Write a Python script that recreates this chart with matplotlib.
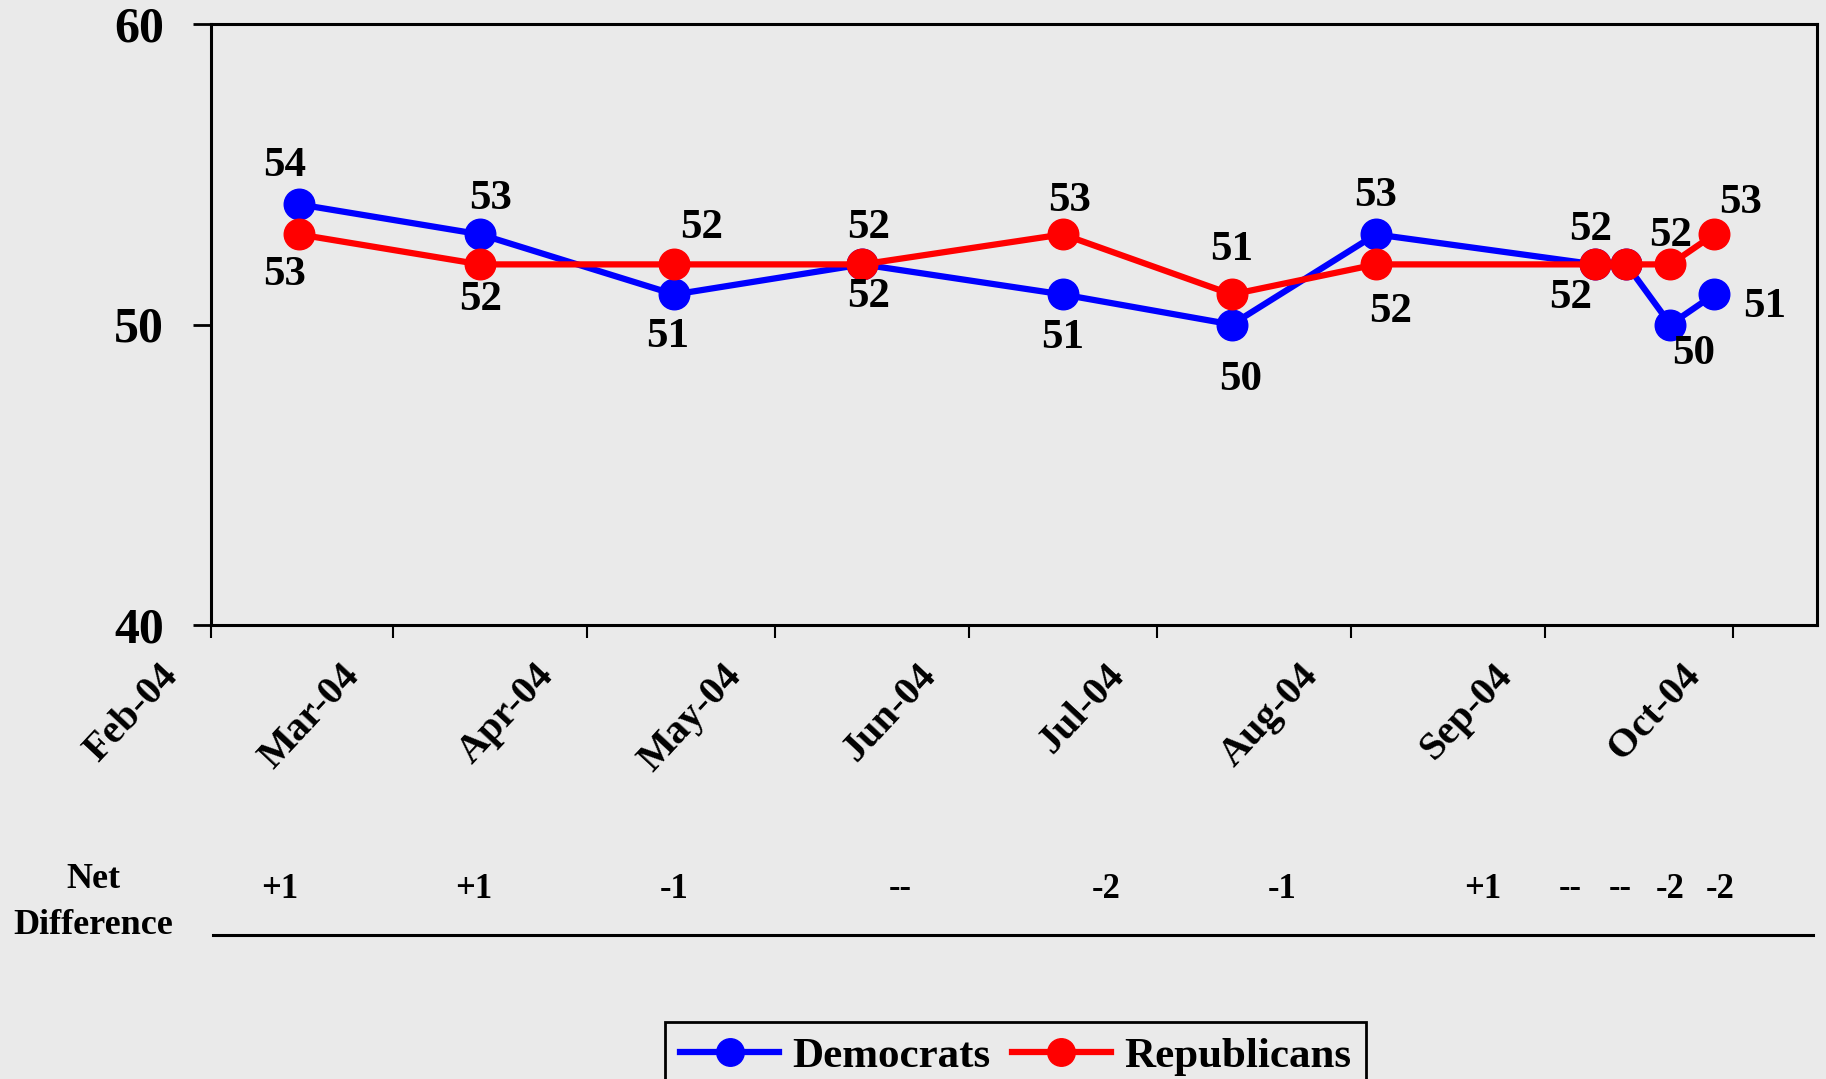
import datetime as dt
import matplotlib
matplotlib.use("Agg")
import matplotlib.pyplot as plt
import matplotlib.dates as mdates
from matplotlib.lines import Line2D
from matplotlib.transforms import ScaledTranslation, blended_transform_factory

plt.rcParams['font.family'] = ['Liberation Serif', 'DejaVu Serif']
plt.rcParams['font.weight'] = 'bold'

# data
poll_dates = [dt.date(2004, 2, 15), dt.date(2004, 3, 15), dt.date(2004, 4, 15),
              dt.date(2004, 5, 15), dt.date(2004, 6, 16), dt.date(2004, 7, 13),
              dt.date(2004, 8, 5), dt.date(2004, 9, 9), dt.date(2004, 9, 14),
              dt.date(2004, 9, 21), dt.date(2004, 9, 28)]
democrats = [54, 53, 51, 52, 51, 50, 53, 52, 52, 50, 51]
republicans = [53, 52, 52, 52, 53, 51, 52, 52, 52, 52, 53]
net_diff = ['+1', '+1', '-1', '--', '-2', '-1', '+1', '--', '--', '-2', '-2']
month_ticks = [dt.date(2004, m, 1) for m in range(2, 11)]

# where the labels sit (pixels from the point), None = no label
dem_off = [(-14, 38), (10, 35), (-7, -43), (6, -33), (0, -44), (9, -55),
           (0, 38), (-25, -34), None, (23, -30), (51, -13)]
rep_off = [(-14, -41), (0, -36), (27, 36), (6, 36), (7, 33), (0, 44),
           (15, -48), (-5, 34), None, (0, 28), (26, 31)]
net_pos = [dt.date(2004, 2, 12), dt.date(2004, 3, 14), dt.date(2004, 4, 15),
           dt.date(2004, 5, 21), dt.date(2004, 6, 23), dt.date(2004, 7, 21),
           dt.date(2004, 8, 22), dt.date(2004, 9, 5), dt.date(2004, 9, 13),
           dt.date(2004, 9, 21), dt.date(2004, 9, 29)]

bg = '#EAEAEA'
W, H = 1826, 1079
fig = plt.figure(figsize=(W / 100, H / 100), dpi=100, facecolor=bg)
ax = fig.add_axes([211 / W, 1 - 625 / H, (1817 - 211) / W, (625 - 24) / H])
ax.set_facecolor(bg)

ax.plot(poll_dates, democrats, color='#0000FF', lw=4.5, marker='o', ms=22,
        label='Democrats', zorder=3)
ax.plot(poll_dates, republicans, color='#FF0000', lw=4.5, marker='o', ms=22,
        label='Republicans', zorder=4)

for d, v, off in zip(poll_dates, democrats, dem_off):
    if off:
        ax.annotate(str(v), (d, v), xytext=off, textcoords='offset pixels',
                    ha='center', va='center', fontsize=31, zorder=5)
for d, v, off in zip(poll_dates, republicans, rep_off):
    if off:
        ax.annotate(str(v), (d, v), xytext=off, textcoords='offset pixels',
                    ha='center', va='center', fontsize=31, zorder=5)

ax.set_ylim(40, 60)
ax.set_yticks([40, 50, 60])
ax.set_xlim(mdates.date2num(dt.date(2004, 2, 1)),
            mdates.date2num(dt.datetime(2004, 10, 14, 10)))
ax.set_xticks(month_ticks)
ax.xaxis.set_major_formatter(mdates.DateFormatter('%b-%y'))

for s in ax.spines.values():
    s.set_linewidth(2.2)
ax.tick_params(axis='y', direction='out', length=13, width=2, pad=21, labelsize=36)
ax.tick_params(axis='x', direction='out', length=9, width=1.5, pad=14, labelsize=29)
shift = ScaledTranslation(-0.25, 0, fig.dpi_scale_trans)
for lab in ax.get_xticklabels():
    lab.set_rotation(47)
    lab.set_ha('right')
    lab.set_va('top')
    lab.set_transform(lab.get_transform() + shift)

# Net difference row
tr = blended_transform_factory(ax.transData, fig.transFigure)
for d, s in zip(net_pos, net_diff):
    ax.text(mdates.date2num(d), 1 - 889 / H, s, transform=tr, ha='center',
            va='center', fontsize=25, clip_on=False)
fig.text(93 / W, 1 - 880 / H, 'Net', ha='center', va='center', fontsize=26)
fig.text(93 / W, 1 - 926 / H, 'Difference', ha='center', va='center', fontsize=26)
fig.add_artist(Line2D([213 / W, 1813 / W], [1 - 935 / H, 1 - 935 / H],
                      transform=fig.transFigure, color='black', lw=2.2))

leg = fig.legend(loc='upper center', bbox_to_anchor=(1015.5 / W, 1 - 1022 / H),
                 ncol=2, fontsize=31, handlelength=2.3, handletextpad=0.3,
                 columnspacing=0.5, borderpad=0.35, borderaxespad=0,
                 fancybox=False, edgecolor='black', facecolor=bg, framealpha=1,
                 markerscale=0.9)
leg.get_frame().set_linewidth(2)

fig.savefig('out.png', dpi=100, facecolor=bg)
